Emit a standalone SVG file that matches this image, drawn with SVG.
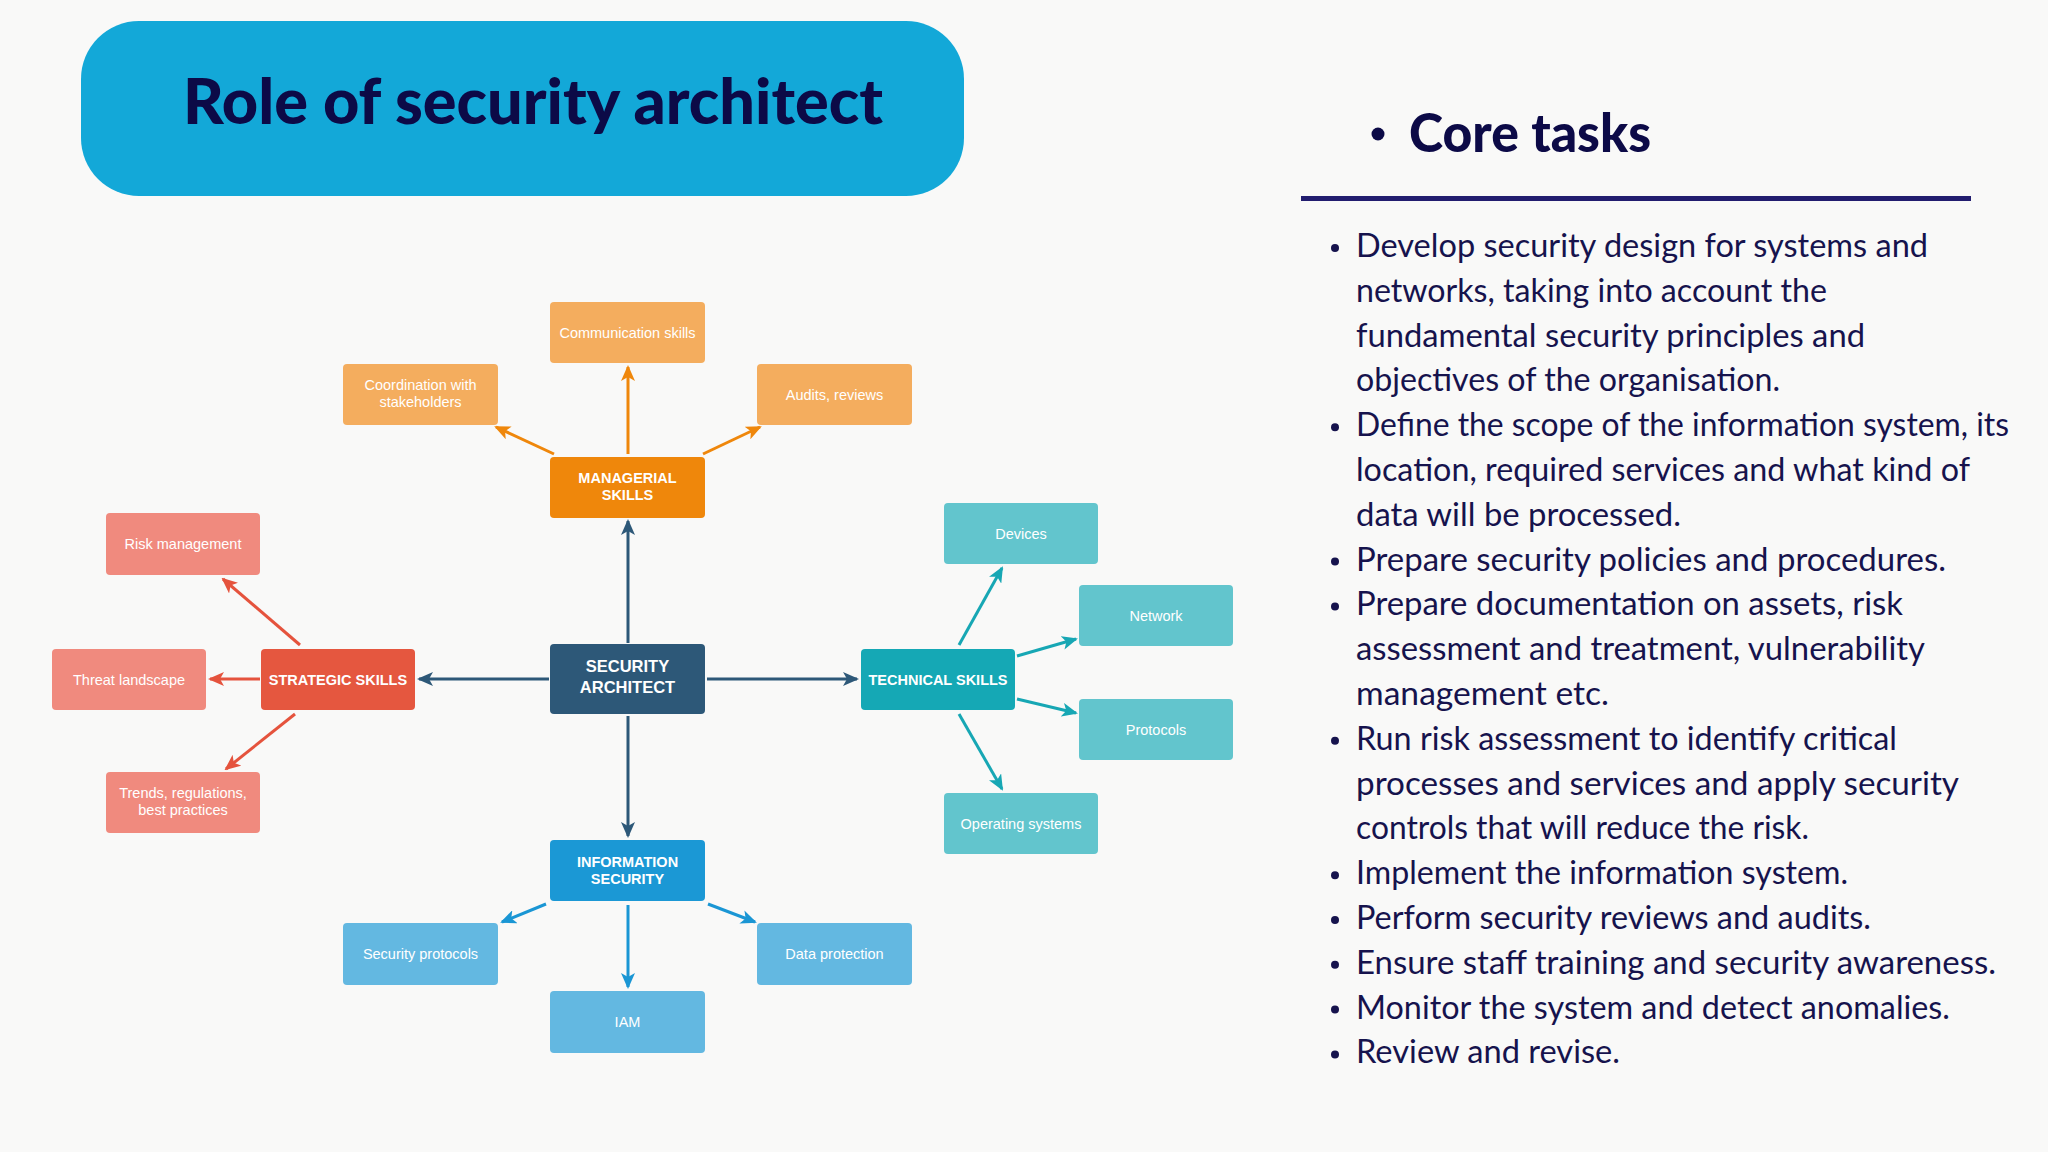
<svg xmlns="http://www.w3.org/2000/svg" width="2048" height="1152" viewBox="0 0 2048 1152">
<style>
.t{font-family:"Liberation Sans",Arial,sans-serif;fill:#fff;font-size:14.5px;text-anchor:middle}
.b{font-weight:bold}
.big{font-size:16.5px}
.lo{fill:#f4ad5e}.mo{fill:#ef870b}
.lr{fill:#f08a7e}.mr{fill:#e5573f}
.ca{fill:#2d5878}
.lt{fill:#62c5cd}.mt{fill:#15a8b5}
.lb{fill:#63b8e1}.mb{fill:#1b98d5}
.c{fill:none;stroke-width:3}
.body{font-family:Lato,"Open Sans",sans-serif;font-size:33px;fill:#16134d}
.dot{fill:#16134d}
</style>
<defs>
<marker id="aN" viewBox="0 0 16 14" markerWidth="16" markerHeight="14" refX="14" refY="7" orient="auto" markerUnits="userSpaceOnUse"><path d="M0,0 L16,7 L0,14 L4,7 z" fill="#2d5878"/></marker>
<marker id="aO" viewBox="0 0 16 14" markerWidth="16" markerHeight="14" refX="14" refY="7" orient="auto" markerUnits="userSpaceOnUse"><path d="M0,0 L16,7 L0,14 L4,7 z" fill="#ef870b"/></marker>
<marker id="aR" viewBox="0 0 16 14" markerWidth="16" markerHeight="14" refX="14" refY="7" orient="auto" markerUnits="userSpaceOnUse"><path d="M0,0 L16,7 L0,14 L4,7 z" fill="#e5533d"/></marker>
<marker id="aT" viewBox="0 0 16 14" markerWidth="16" markerHeight="14" refX="14" refY="7" orient="auto" markerUnits="userSpaceOnUse"><path d="M0,0 L16,7 L0,14 L4,7 z" fill="#17a7b4"/></marker>
<marker id="aB" viewBox="0 0 16 14" markerWidth="16" markerHeight="14" refX="14" refY="7" orient="auto" markerUnits="userSpaceOnUse"><path d="M0,0 L16,7 L0,14 L4,7 z" fill="#1a96d4"/></marker>
</defs>
<rect width="2048" height="1152" fill="#f9f9f8"/>

<g id="title">
<rect x="81" y="21" width="883" height="175" rx="58" fill="#13a8d8"/>
<text x="533" y="124" font-family="Lato,'Open Sans',sans-serif" font-weight="900" font-size="62" fill="#0c0a47" text-anchor="middle" textLength="700" lengthAdjust="spacingAndGlyphs">Role of security architect</text>
</g>

<g id="connectors">
<line class="c" stroke="#2d5878" x1="628" y1="643" x2="628" y2="521" marker-end="url(#aN)"/>
<line class="c" stroke="#2d5878" x1="549" y1="679" x2="419" y2="679" marker-end="url(#aN)"/>
<line class="c" stroke="#2d5878" x1="707" y1="679" x2="857" y2="679" marker-end="url(#aN)"/>
<line class="c" stroke="#2d5878" x1="628" y1="716" x2="628" y2="836" marker-end="url(#aN)"/>

<line class="c" stroke="#ef870b" x1="628" y1="454" x2="628" y2="367" marker-end="url(#aO)"/>
<line class="c" stroke="#ef870b" x1="554" y1="454" x2="496" y2="427" marker-end="url(#aO)"/>
<line class="c" stroke="#ef870b" x1="703" y1="454" x2="760" y2="427" marker-end="url(#aO)"/>

<line class="c" stroke="#e5533d" x1="300" y1="645" x2="223" y2="579" marker-end="url(#aR)"/>
<line class="c" stroke="#e5533d" x1="260" y1="679" x2="210" y2="679" marker-end="url(#aR)"/>
<line class="c" stroke="#e5533d" x1="295" y1="714" x2="226" y2="769" marker-end="url(#aR)"/>

<line class="c" stroke="#17a7b4" x1="959" y1="645" x2="1002" y2="568" marker-end="url(#aT)"/>
<line class="c" stroke="#17a7b4" x1="1017" y1="656" x2="1076" y2="639" marker-end="url(#aT)"/>
<line class="c" stroke="#17a7b4" x1="1017" y1="699" x2="1076" y2="713" marker-end="url(#aT)"/>
<line class="c" stroke="#17a7b4" x1="959" y1="714" x2="1002" y2="789" marker-end="url(#aT)"/>

<line class="c" stroke="#1a96d4" x1="546" y1="904" x2="502" y2="922" marker-end="url(#aB)"/>
<line class="c" stroke="#1a96d4" x1="628" y1="905" x2="628" y2="987" marker-end="url(#aB)"/>
<line class="c" stroke="#1a96d4" x1="708" y1="904" x2="755" y2="922" marker-end="url(#aB)"/>
</g>

<g id="n-communication"><rect class="lo" x="550" y="302" width="155" height="61" rx="4"/><text class="t" x="627.5" y="337.5">Communication skills</text></g>
<g id="n-coordination"><rect class="lo" x="343" y="364" width="155" height="61" rx="4"/><text class="t" x="420.5" y="390">Coordination with</text><text class="t" x="420.5" y="407">stakeholders</text></g>
<g id="n-audits"><rect class="lo" x="757" y="364" width="155" height="61" rx="4"/><text class="t" x="834.5" y="399.5">Audits, reviews</text></g>
<g id="n-managerial"><rect class="mo" x="550" y="457" width="155" height="61" rx="4"/><text class="t b" x="627.5" y="483">MANAGERIAL</text><text class="t b" x="627.5" y="500">SKILLS</text></g>

<g id="n-risk"><rect class="lr" x="106" y="513" width="154" height="62" rx="4"/><text class="t" x="183" y="549">Risk management</text></g>
<g id="n-threat"><rect class="lr" x="52" y="649" width="154" height="61" rx="4"/><text class="t" x="129" y="684.5">Threat landscape</text></g>
<g id="n-strategic"><rect class="mr" x="261" y="649" width="154" height="61" rx="4"/><text class="t b" x="338" y="684.5">STRATEGIC SKILLS</text></g>
<g id="n-trends"><rect class="lr" x="106" y="772" width="154" height="61" rx="4"/><text class="t" x="183" y="798">Trends, regulations,</text><text class="t" x="183" y="815">best practices</text></g>

<g id="n-architect"><rect class="ca" x="550" y="644" width="155" height="70" rx="4"/><text class="t b big" x="627.5" y="672">SECURITY</text><text class="t b big" x="627.5" y="693">ARCHITECT</text></g>

<g id="n-devices"><rect class="lt" x="944" y="503" width="154" height="61" rx="4"/><text class="t" x="1021" y="538.5">Devices</text></g>
<g id="n-network"><rect class="lt" x="1079" y="585" width="154" height="61" rx="4"/><text class="t" x="1156" y="620.5">Network</text></g>
<g id="n-technical"><rect class="mt" x="861" y="649" width="154" height="61" rx="4"/><text class="t b" x="938" y="684.5">TECHNICAL SKILLS</text></g>
<g id="n-protocols"><rect class="lt" x="1079" y="699" width="154" height="61" rx="4"/><text class="t" x="1156" y="734.5">Protocols</text></g>
<g id="n-os"><rect class="lt" x="944" y="793" width="154" height="61" rx="4"/><text class="t" x="1021" y="828.5">Operating systems</text></g>

<g id="n-infosec"><rect class="mb" x="550" y="840" width="155" height="61" rx="4"/><text class="t b" x="627.5" y="867">INFORMATION</text><text class="t b" x="627.5" y="884">SECURITY</text></g>
<g id="n-secprot"><rect class="lb" x="343" y="923" width="155" height="62" rx="4"/><text class="t" x="420.5" y="959">Security protocols</text></g>
<g id="n-iam"><rect class="lb" x="550" y="991" width="155" height="62" rx="4"/><text class="t" x="627.5" y="1027">IAM</text></g>
<g id="n-dataprot"><rect class="lb" x="757" y="923" width="155" height="62" rx="4"/><text class="t" x="834.5" y="959">Data protection</text></g>

<g id="core-tasks">
<circle cx="1378" cy="134" r="6.5" fill="#0c0a47"/>
<text x="1409" y="152" font-family="Lato,'Open Sans',sans-serif" font-weight="900" font-size="54" fill="#0c0a47" textLength="242" lengthAdjust="spacingAndGlyphs">Core tasks</text>
<rect x="1301" y="196" width="670" height="5" fill="#221d6f"/>
</g>

<g id="task-list">
<circle class="dot" cx="1335" cy="248" r="4"/>
<text class="body" x="1356" y="257" textLength="572" lengthAdjust="spacingAndGlyphs">Develop security design for systems and</text>
<text class="body" x="1356" y="301.8" textLength="471" lengthAdjust="spacingAndGlyphs">networks, taking into account the</text>
<text class="body" x="1356" y="346.6" textLength="509" lengthAdjust="spacingAndGlyphs">fundamental security principles and</text>
<text class="body" x="1356" y="391.4" textLength="424" lengthAdjust="spacingAndGlyphs">objectives of the organisation.</text>
<circle class="dot" cx="1335" cy="427.2" r="4"/>
<text class="body" x="1356" y="436.2" textLength="653" lengthAdjust="spacingAndGlyphs">Define the scope of the information system, its</text>
<text class="body" x="1356" y="481" textLength="614" lengthAdjust="spacingAndGlyphs">location, required services and what kind of</text>
<text class="body" x="1356" y="525.8" textLength="325" lengthAdjust="spacingAndGlyphs">data will be processed.</text>
<circle class="dot" cx="1335" cy="561.6" r="4"/>
<text class="body" x="1356" y="570.6" textLength="590" lengthAdjust="spacingAndGlyphs">Prepare security policies and procedures.</text>
<circle class="dot" cx="1335" cy="606.4" r="4"/>
<text class="body" x="1356" y="615.4" textLength="547" lengthAdjust="spacingAndGlyphs">Prepare documentation on assets, risk</text>
<text class="body" x="1356" y="660.2" textLength="569" lengthAdjust="spacingAndGlyphs">assessment and treatment, vulnerability</text>
<text class="body" x="1356" y="705" textLength="253" lengthAdjust="spacingAndGlyphs">management etc.</text>
<circle class="dot" cx="1335" cy="740.8" r="4"/>
<text class="body" x="1356" y="749.8" textLength="541" lengthAdjust="spacingAndGlyphs">Run risk assessment to identify critical</text>
<text class="body" x="1356" y="794.6" textLength="603" lengthAdjust="spacingAndGlyphs">processes and services and apply security</text>
<text class="body" x="1356" y="839.4" textLength="453" lengthAdjust="spacingAndGlyphs">controls that will reduce the risk.</text>
<circle class="dot" cx="1335" cy="875.2" r="4"/>
<text class="body" x="1356" y="884.2" textLength="492" lengthAdjust="spacingAndGlyphs">Implement the information system.</text>
<circle class="dot" cx="1335" cy="920" r="4"/>
<text class="body" x="1356" y="929" textLength="515" lengthAdjust="spacingAndGlyphs">Perform security reviews and audits.</text>
<circle class="dot" cx="1335" cy="964.8" r="4"/>
<text class="body" x="1356" y="973.8" textLength="640" lengthAdjust="spacingAndGlyphs">Ensure staff training and security awareness.</text>
<circle class="dot" cx="1335" cy="1009.6" r="4"/>
<text class="body" x="1356" y="1018.6" textLength="594" lengthAdjust="spacingAndGlyphs">Monitor the system and detect anomalies.</text>
<circle class="dot" cx="1335" cy="1054.4" r="4"/>
<text class="body" x="1356" y="1063.4" textLength="264" lengthAdjust="spacingAndGlyphs">Review and revise.</text>
</g>
</svg>
